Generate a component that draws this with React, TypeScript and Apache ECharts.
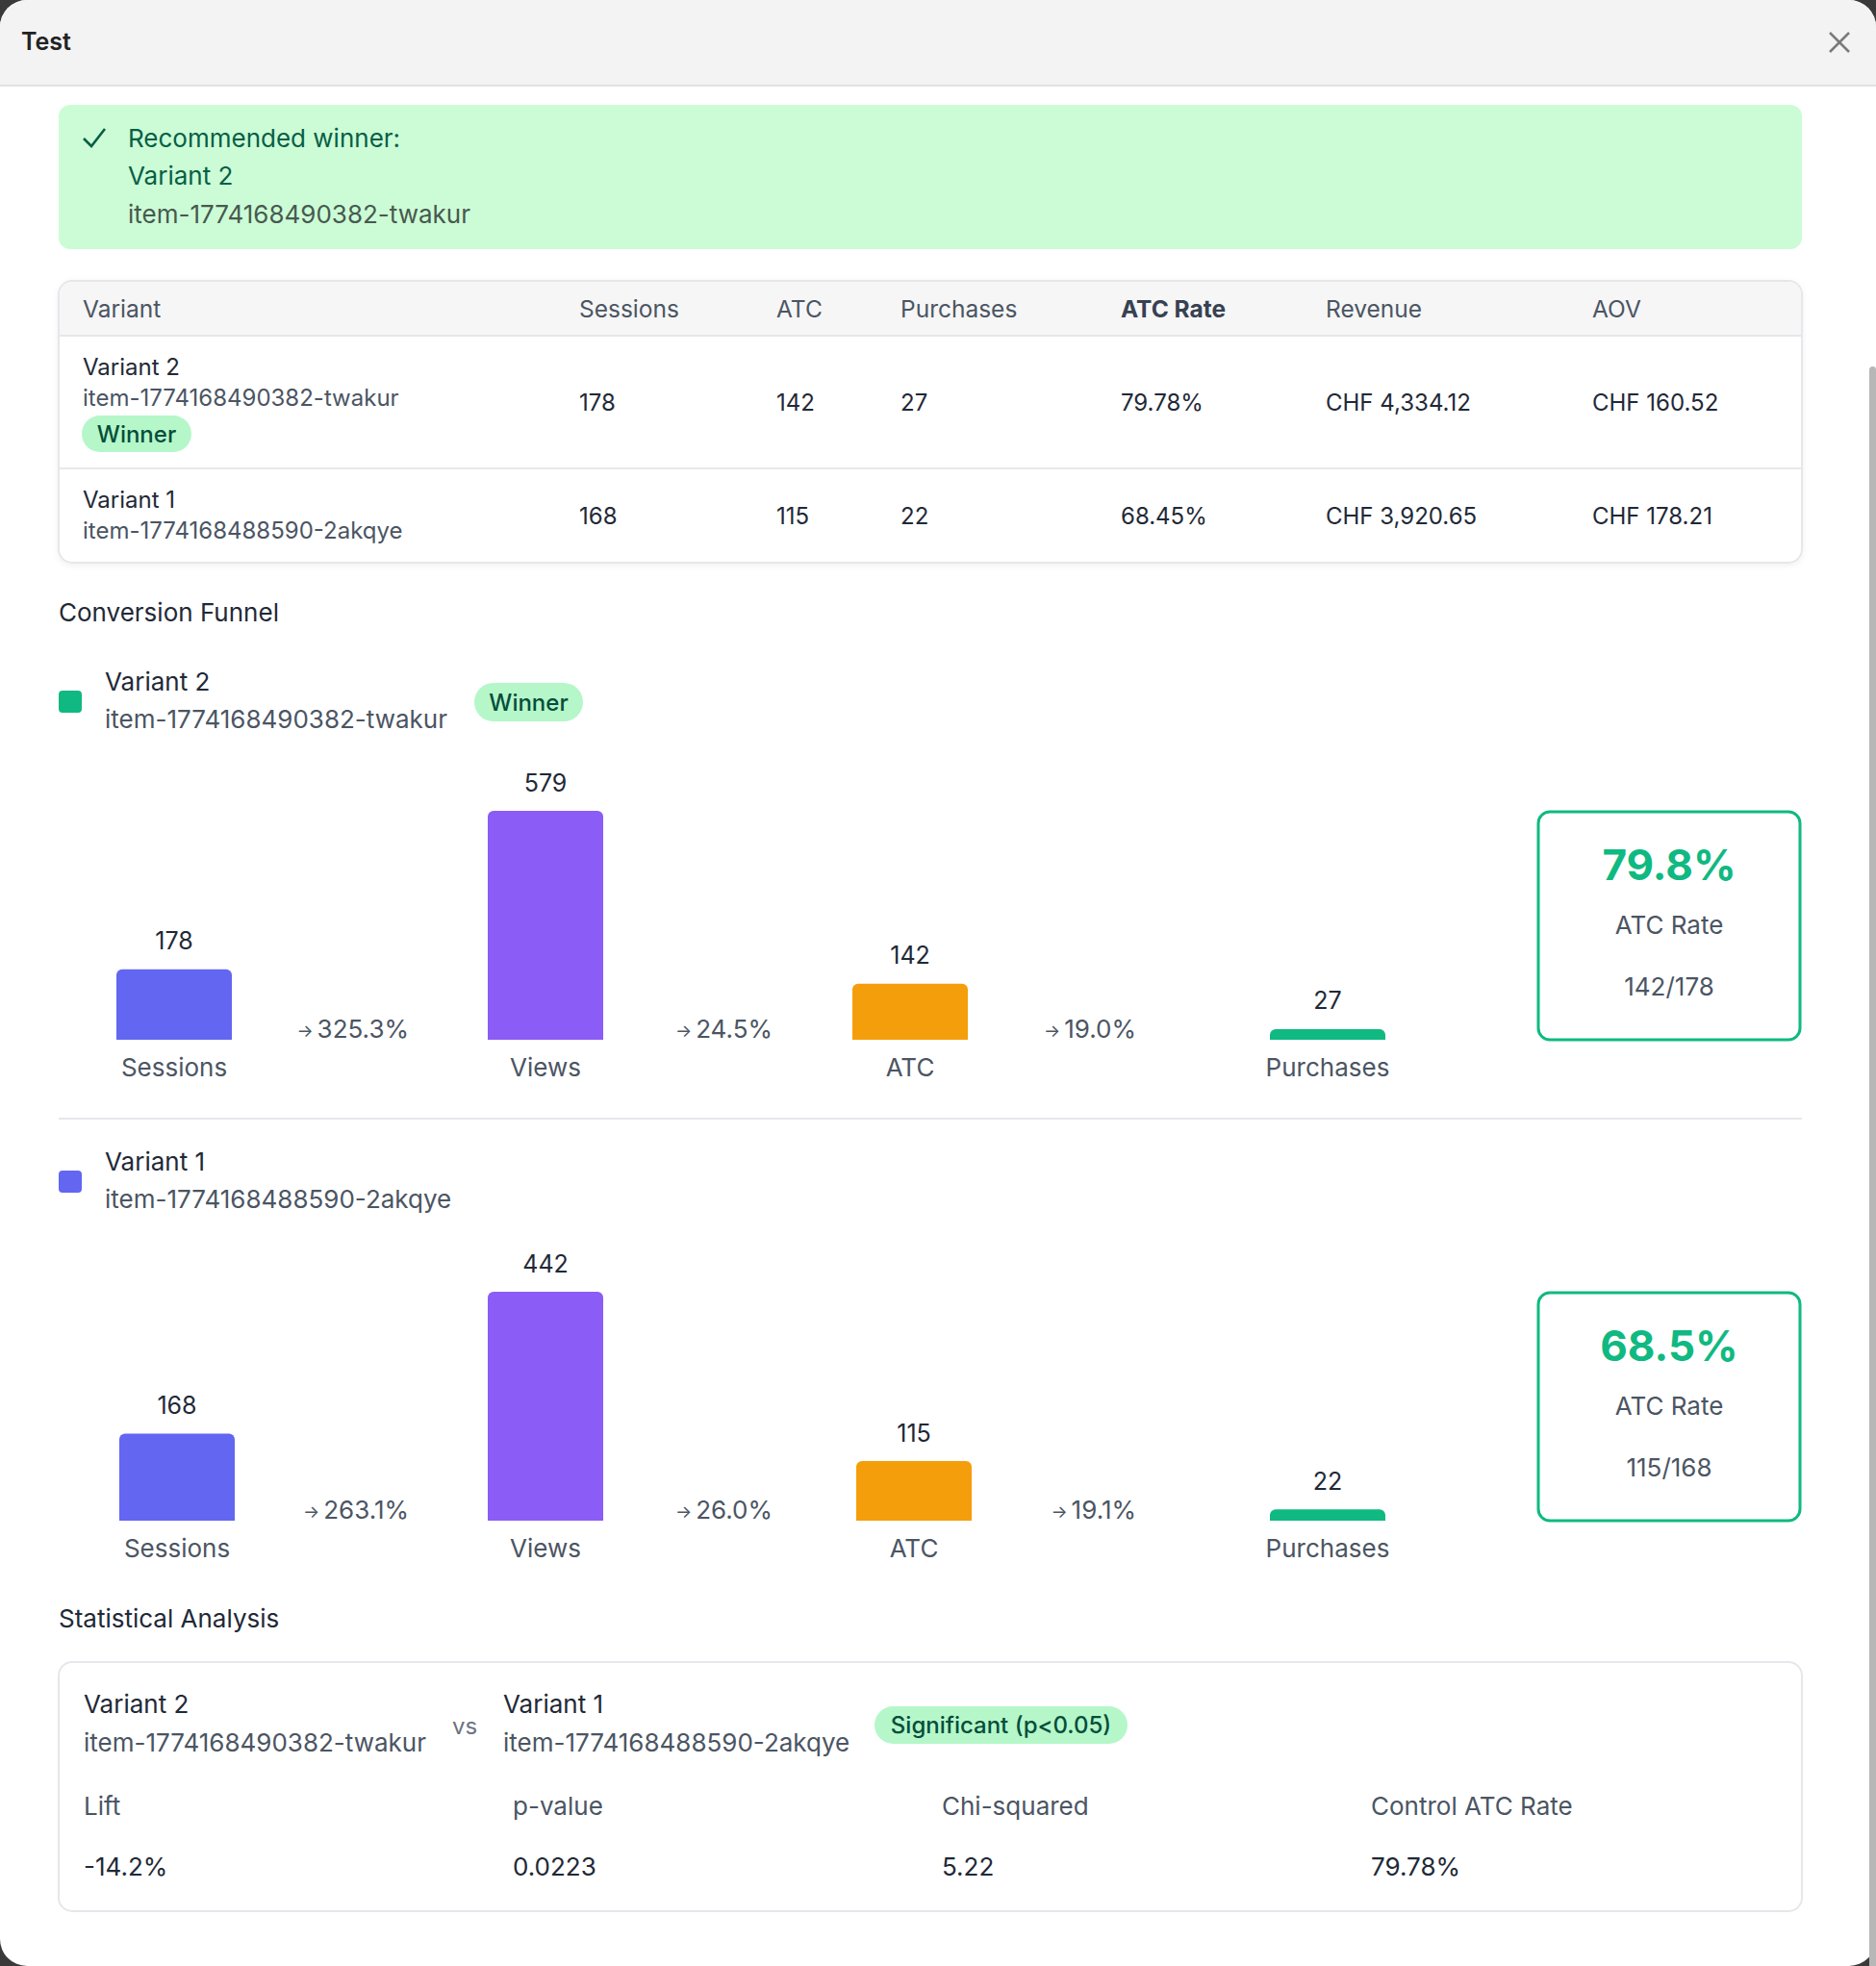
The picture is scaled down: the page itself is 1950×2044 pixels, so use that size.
import React, { useEffect, useRef } from "react";
import * as echarts from "echarts";

// ---------- data ----------
const stages = ["Sessions", "Views", "ATC", "Purchases"];
const stageColors = ["#6366f1", "#8b5cf6", "#f59e0b", "#10b981"];
const variantNames = ["Variant 2", "Variant 1"];
const variantIds = ["item-1774168490382-twakur", "item-1774168488590-2akqye"];
const variantMarkColors = ["#10b981", "#6366f1"];
const variant2Funnel = [178, 579, 142, 27];
const variant1Funnel = [168, 442, 115, 22];
const funnels = [variant2Funnel, variant1Funnel];

const tableHeaders = ["Variant", "Sessions", "ATC", "Purchases", "ATC Rate", "Revenue", "AOV"];
const tableSessions = ["178", "168"];
const tableAtc = ["142", "115"];
const tablePurchases = ["27", "22"];
const tableAtcRate = ["79.78%", "68.45%"];
const tableRevenue = ["CHF 4,334.12", "CHF 3,920.65"];
const tableAov = ["CHF 160.52", "CHF 178.21"];

const statLabels = ["Lift", "p-value", "Chi-squared", "Control ATC Rate"];
const statValues = ["-14.2%", "0.0223", "5.22", "79.78%"];

// ---------- layout ----------
const FONT = 'Inter, "Noto Sans", sans-serif';
const DARK = "#1f2937";
const GREY = "#4b5563";
const BAR_H = 238;
const BAR_W = 120;
const funnelLayout = [
  { baseline: 1081, centers: [181, 567, 946, 1380], arrowX: [425, 803, 1181], headerY: 708 },
  { baseline: 1581, centers: [184, 567, 950, 1380], arrowX: [425, 803, 1181], headerY: 1207 },
];
const tableCols = [86, 602, 807, 936, 1165, 1378, 1655];
const statCols = [87, 533, 979, 1425];

function txt(x: number, y: number, text: string, size: number, color: string, opts: any = {}) {
  const align = opts.align || "left";
  return {
    type: "text",
    x,
    y,
    z: 20,
    style: {
      text,
      fontSize: size,
      fontFamily: FONT,
      fontWeight: opts.weight || 400,
      fill: color,
      align,
      verticalAlign: "middle",
      textAlign: align,
      textVerticalAlign: "middle",
      rich: opts.rich,
    },
  };
}

function rect(x: number, y: number, w: number, h: number, style: any, r: any = 0, z = 5) {
  return { type: "rect", z, shape: { x, y, width: w, height: h, r }, style };
}

function badge(x: number, y: number, w: number, h: number, text: string) {
  return [
    rect(x, y, w, h, { fill: "#b5f7c9" }, h / 2, 8),
    txt(x + w / 2, y + h / 2, text, 24, "#064e3b", { align: "center", weight: 500 }),
  ];
}

function buildOption() {
  const g: any[] = [];
  // window
  g.push(rect(0, 0, 1950, 2044, { fill: "#3a3a3a" }, 0, 0));
  g.push(rect(0, 0, 1950, 2044, { fill: "#ffffff" }, 28, 1));
  g.push(rect(0, 0, 1950, 88, { fill: "#f3f3f3" }, [28, 28, 0, 0], 2));
  g.push(rect(0, 88, 1950, 2, { fill: "#e2e2e2" }, 0, 3));
  g.push(txt(22, 43, "Test", 25, "#222222", { weight: 600 }));
  g.push({ type: "line", z: 20, shape: { x1: 1902, y1: 34, x2: 1922, y2: 54 }, style: { stroke: "#7a7a7a", lineWidth: 2.5 } });
  g.push({ type: "line", z: 20, shape: { x1: 1922, y1: 34, x2: 1902, y2: 54 }, style: { stroke: "#7a7a7a", lineWidth: 2.5 } });
  // scrollbar
  g.push(rect(1943, 381, 7, 1663, { fill: "#b7b7b7" }, [4, 4, 0, 0], 3));

  // banner
  g.push(rect(61, 109, 1812, 150, { fill: "#ccfcd6" }, 12, 4));
  g.push({ type: "polyline", z: 20, shape: { points: [[87, 144], [95, 152], [109, 134]] }, style: { stroke: "#065f46", lineWidth: 2.6, fill: null } });
  g.push(txt(133, 143, "Recommended winner:", 26, "#065f46"));
  g.push(txt(133, 182, variantNames[0], 26, "#065f46"));
  g.push(txt(133, 222, variantIds[0], 26, "#47594f"));

  // table
  g.push(rect(61, 292, 1812, 293, { fill: "#ffffff", stroke: "#e5e7eb", lineWidth: 2, shadowBlur: 6, shadowOffsetY: 2, shadowColor: "rgba(0,0,0,0.06)" }, 14, 4));
  g.push(rect(62, 293, 1810, 56, { fill: "#f6f6f6" }, [13, 13, 0, 0], 5));
  g.push(rect(62, 348, 1810, 2, { fill: "#e5e7eb" }, 0, 6));
  g.push(rect(62, 486, 1810, 2, { fill: "#e8e8ea" }, 0, 6));
  tableHeaders.forEach((h, i) => {
    g.push(txt(tableCols[i], 321, h, 24.5, i === 4 ? "#374151" : GREY, { weight: i === 4 ? 700 : 400 }));
  });
  const rowY = [418, 536];
  const nameY = [381, 519];
  [0, 1].forEach((r) => {
    g.push(txt(tableCols[0], nameY[r], variantNames[r], 24, DARK));
    g.push(txt(tableCols[0], nameY[r] + 32, variantIds[r], 24, GREY));
    const vals = [tableSessions[r], tableAtc[r], tablePurchases[r], tableAtcRate[r], tableRevenue[r], tableAov[r]];
    vals.forEach((v, i) => g.push(txt(tableCols[i + 1], rowY[r], v, 24, DARK)));
  });
  g.push(...badge(85, 432, 114, 38, "Winner"));

  // conversion funnel
  g.push(txt(61, 636, "Conversion Funnel", 26, DARK));
  g.push(rect(61, 1162, 1812, 2, { fill: "#e5e7eb" }, 0, 4));
  funnelLayout.forEach((L, v) => {
    const data = funnels[v];
    g.push(rect(61, L.headerY + 10, 24, 23, { fill: variantMarkColors[v] }, 4, 8));
    g.push(txt(109, L.headerY, variantNames[v], 26, DARK));
    g.push(txt(109, L.headerY + 39, variantIds[v], 26, GREY));
    if (v === 0) g.push(...badge(493, L.headerY + 2, 113, 40, "Winner"));
    // arrows between stages
    for (let i = 0; i < 3; i++) {
      const pct = ((data[i + 1] / data[i]) * 100).toFixed(1) + "%";
      g.push(
        txt(L.arrowX[i], L.baseline - 12, "{a|→}{b|" + pct + "}", 26, GREY, {
          align: "right",
          rich: {
            a: { fontSize: 18, fontFamily: FONT, fill: GREY, color: GREY, padding: [5, 4, 0, 0] },
            b: { fontSize: 26, fontFamily: FONT, fill: GREY, color: GREY },
          },
        })
      );
    }
    // ATC rate box
    const top = L.baseline - BAR_H;
    g.push(rect(1599, top + 1, 272, BAR_H - 1, { fill: "#ffffff", stroke: "#10b981", lineWidth: 3 }, 12, 6));
    const rate = ((data[2] / data[0]) * 100).toFixed(1) + "%";
    g.push(txt(1735, top + 56, rate, 44, "#10b981", { align: "center", weight: 700 }));
    g.push(txt(1735, top + 118, "ATC Rate", 26, GREY, { align: "center" }));
    g.push(txt(1735, top + 182, data[2] + "/" + data[0], 26, GREY, { align: "center" }));
  });

  // statistical analysis
  g.push(txt(61, 1682, "Statistical Analysis", 26, DARK));
  g.push(rect(61, 1728, 1812, 259, { fill: "#ffffff", stroke: "#e5e7eb", lineWidth: 2 }, 14, 4));
  g.push(txt(87, 1771, variantNames[0], 26, DARK));
  g.push(txt(87, 1811, variantIds[0], 26, GREY));
  g.push(txt(470, 1794, "vs", 24, "#6b7280"));
  g.push(txt(523, 1771, variantNames[1], 26, DARK));
  g.push(txt(523, 1811, variantIds[1], 26, GREY));
  g.push(...badge(909, 1774, 263, 39, "Significant (p<0.05)"));
  statLabels.forEach((s, i) => {
    g.push(txt(statCols[i], 1877, s, 26, GREY));
    g.push(txt(statCols[i], 1940, statValues[i], 26, DARK));
  });

  // bar grids
  const grid: any[] = [];
  const xAxis: any[] = [];
  const yAxis: any[] = [];
  const series: any[] = [];
  funnelLayout.forEach((L, v) => {
    const data = funnels[v];
    const max = Math.max(...data);
    stages.forEach((s, i) => {
      const idx = grid.length;
      grid.push({ left: L.centers[i] - BAR_W / 2, top: L.baseline - BAR_H, width: BAR_W, height: BAR_H, containLabel: false });
      xAxis.push({
        gridIndex: idx,
        type: "category",
        data: [s],
        z: 30,
        axisLine: { show: false },
        axisTick: { show: false },
        splitLine: { show: false },
        axisLabel: { color: GREY, fontSize: 26, fontFamily: FONT, margin: 15, interval: 0 },
      });
      yAxis.push({ gridIndex: idx, type: "value", min: 0, max, show: false, splitLine: { show: false } });
      series.push({
        type: "bar",
        xAxisIndex: idx,
        yAxisIndex: idx,
        data: [data[i]],
        barWidth: BAR_W,
        itemStyle: { color: stageColors[i], borderRadius: [6, 6, 0, 0] },
        label: { show: true, position: "top", distance: 17, fontSize: 25, fontFamily: FONT, color: DARK },
        z: 10,
      });
    });
  });

  return {
    animation: false,
    grid,
    xAxis,
    yAxis,
    series,
    graphic: { elements: g },
  };
}

export default function App() {
  const ref = useRef<HTMLDivElement>(null);
  useEffect(() => {
    document.body.style.margin = "0";
    document.body.style.overflow = "hidden";
    const chart = echarts.init(ref.current!, null, { renderer: "svg" });
    chart.setOption(buildOption() as any);
    return () => chart.dispose();
  }, []);
  return <div ref={ref} style={{ width: 1950, height: 2044 }} />;
}
